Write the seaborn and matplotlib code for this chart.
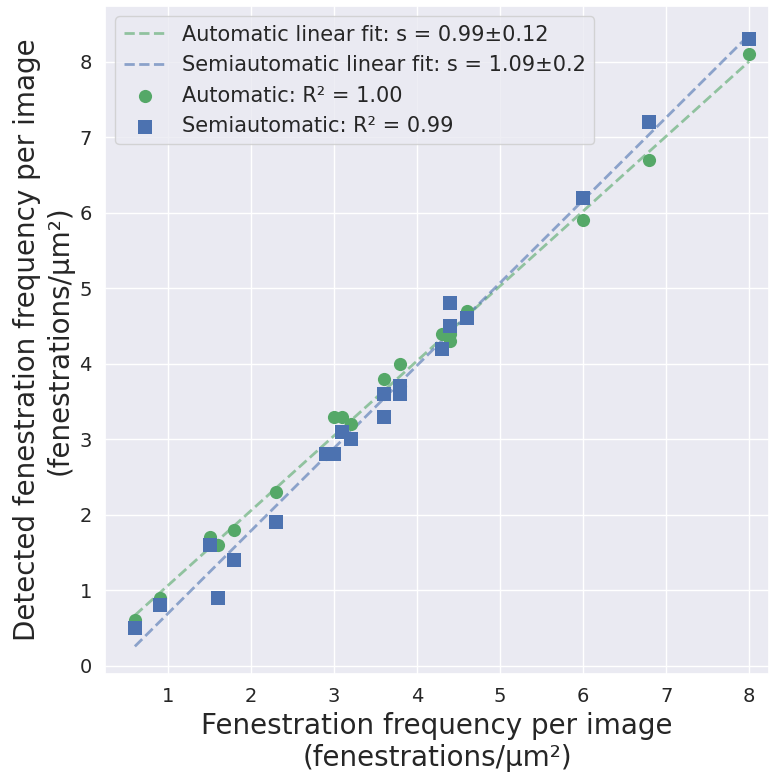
import numpy as np
import pandas as pd
import matplotlib
matplotlib.use("Agg")
import matplotlib.pyplot as plt
import seaborn as sns

# Reference (manual) fenestration frequency per image
reference = [0.6, 0.9, 1.5, 1.6, 1.8, 2.3, 2.9, 3.0, 3.1, 3.2, 3.6, 3.6,
             3.8, 3.8, 4.3, 4.4, 4.4, 4.6, 6.0, 6.8, 8.0]
automatic = [0.6, 0.9, 1.7, 1.6, 1.8, 2.3, 2.8, 3.3, 3.3, 3.2, 3.8, 3.6,
             4.0, 3.7, 4.4, 4.3, 4.4, 4.7, 5.9, 6.7, 8.1]
semiautomatic = [0.5, 0.8, 1.6, 0.9, 1.4, 1.9, 2.8, 2.8, 3.1, 3.0, 3.6, 3.3,
                 3.7, 3.6, 4.2, 4.8, 4.5, 4.6, 6.2, 7.2, 8.3]

labels_fit = ["Automatic linear fit: s = 0.99±0.12",
              "Semiautomatic linear fit: s = 1.09±0.2"]
labels_pts = ["Automatic: R² = 1.00", "Semiautomatic: R² = 0.99"]

df = pd.DataFrame({"ref": reference, "auto": automatic, "semi": semiautomatic})

sns.set_theme(style="darkgrid")
plt.rcParams['font.family'] = ['DejaVu Sans']

green = sns.color_palette("deep")[2]
blue = sns.color_palette("deep")[0]

fig = plt.figure(figsize=(7.69, 7.78), dpi=100)
ax = fig.add_axes([105/769, (778-674)/778, (769-105)/769, (674-6)/778])

sns.regplot(data=df, x="ref", y="auto", scatter=False, ci=None, ax=ax,
            color=green, label=labels_fit[0],
            line_kws=dict(ls="--", lw=2, alpha=0.6))
sns.regplot(data=df, x="ref", y="semi", scatter=False, ci=None, ax=ax,
            color=blue, label=labels_fit[1],
            line_kws=dict(ls="--", lw=2, alpha=0.6))
sns.scatterplot(data=df, x="ref", y="auto", ax=ax, color=green, marker="o",
                s=90, linewidth=0, label=labels_pts[0], zorder=3)
sns.scatterplot(data=df, x="ref", y="semi", ax=ax, color=blue, marker="s",
                s=90, linewidth=0, label=labels_pts[1], zorder=3)

ax.set_xlim(0.24, 8.24)
ax.set_ylim(-0.11, 8.74)
ax.set_xticks(range(1, 9))
ax.set_yticks(range(0, 9))
ax.tick_params(labelsize=14)
ax.set_xlabel("Fenestration frequency per image\n(fenestrations/µm²)", fontsize=20)
ax.set_ylabel("Detected fenestration frequency per image\n(fenestrations/µm²)", fontsize=20)
ax.legend(loc="upper left", fontsize=15, frameon=True)

fig.savefig("out.png", dpi=100)
